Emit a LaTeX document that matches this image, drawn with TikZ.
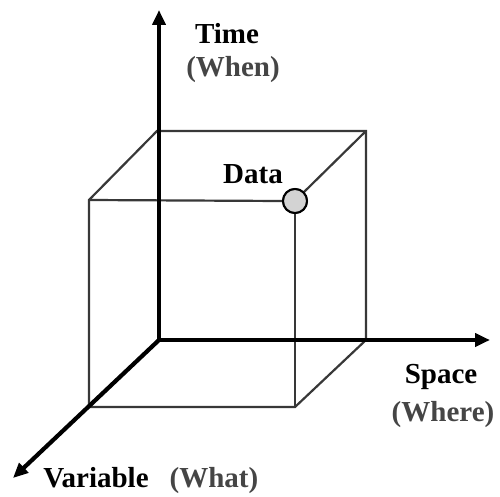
\documentclass[tikz,border=0pt]{standalone}
\usepackage{fontspec}
\setmainfont{Liberation Serif}
\usetikzlibrary{arrows.meta}
\definecolor{edgegray}{HTML}{383838}
\definecolor{labgray}{HTML}{454545}
\definecolor{dotfill}{HTML}{D3D3D3}
\begin{document}
\begin{tikzpicture}[x=1pt,y=-1pt,
  cubeedge/.style={draw=edgegray,line width=2.2pt},
  axisline/.style={draw=black,line width=4.2pt,-{Triangle[length=15pt,width=13pt]}},
  mainlab/.style={font=\fontsize{29}{30}\selectfont\bfseries,text=black,anchor=base,inner sep=0pt},
  sublab/.style={font=\fontsize{29}{30}\selectfont\bfseries,text=labgray,anchor=base,inner sep=0pt},
  datadot/.style={circle,draw=black,line width=2pt,fill=dotfill,minimum size=24pt,inner sep=0pt}]
\useasboundingbox (0,0) rectangle (500,497);
% cube corners
\coordinate (btl) at (157,131);
\coordinate (btr) at (366,131);
\coordinate (bbr) at (366,340);
\coordinate (ftl) at (89,200);
\coordinate (fbl) at (89,407);
\coordinate (fbr) at (295,407);
\node[datadot] (data) at (295,201) {};
% axes points
\coordinate (O) at (159,340);
\coordinate (tup) at (159,10);
\coordinate (tright) at (490,340);
\coordinate (tdiag) at (13,478);
% cube edges
\draw[cubeedge] (ftl) -- (btl) -- (btr) -- (bbr) -- (fbr) -- (fbl) -- cycle;
\draw[cubeedge] (ftl) -- (data.west);
\draw[cubeedge] (data.south) -- (fbr);
\draw[cubeedge] (data.north east) -- (btr);
% axes
\draw[axisline] (O) -- (tup);
\draw[axisline] (O) -- (tright);
\draw[axisline] (O) -- (tdiag);
% data node on top
\node[datadot] at (data.center) {};
% labels
\node[mainlab] (ltime) at (227,44) {Time};
\node[sublab] (lwhen) at (233,77) {(When)};
\node[mainlab] (ldata) at (253,183) {Data};
\node[mainlab] (lspace) at (441,383) {Space};
\node[sublab] (lwhere) at (443,421) {(Where)};
\node[mainlab] (lvar) at (96,487) {Variable};
\node[sublab] (lwhat) at (214,487) {(What)};
\end{tikzpicture}
\end{document}
